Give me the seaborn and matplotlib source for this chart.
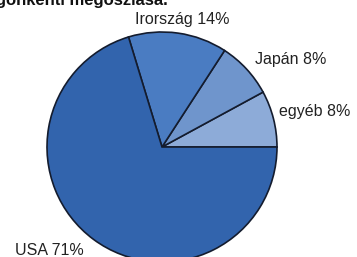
import numpy as np
import matplotlib
matplotlib.use("Agg")
import matplotlib.pyplot as plt
import seaborn as sns

# slices, counter-clockwise from 3 o'clock
labels = ["egyéb", "Japán", "Irország", "USA"]
shares = [8, 8, 14, 71]
colors = ["#8dabd8", "#6f95cc", "#4a7cc2", "#3264ad"]
title = "Országonkénti megoszlása."

sns.set_style("white")
plt.rcParams["font.family"] = ["Liberation Sans", "DejaVu Sans"]

W, H = 357, 257
fig = plt.figure(figsize=(W / 100, H / 100), dpi=100)
cx, cy, r = 162, 147, 115
ax = fig.add_axes([(cx - r) / W, (H - cy - r) / H, 2 * r / W, 2 * r / H])

ax.pie(shares, colors=colors, startangle=0, counterclock=True, radius=1,
       wedgeprops=dict(edgecolor="#141c2e", linewidth=1.2))
ax.set_xlim(-1, 1)
ax.set_ylim(-1, 1)
ax.set_aspect("equal")
ax.axis("off")

# label positions in pie units
label_pos = {"Irország": (0.18, 1.11), "Japán": (1.12, 0.76),
             "egyéb": (1.33, 0.31), "USA": (-0.98, -0.90)}
for name, val in zip(labels, shares):
    x, y = label_pos[name]
    ax.text(x, y, f"{name} {val}%", ha="center", va="center",
            fontsize=11.5, color="#222222", clip_on=False)

fig.text(168 / W, 1 - 1 / H, title, ha="right", va="center",
         fontsize=12, fontweight="bold", color="#111111")

fig.savefig("out.png", dpi=100)
